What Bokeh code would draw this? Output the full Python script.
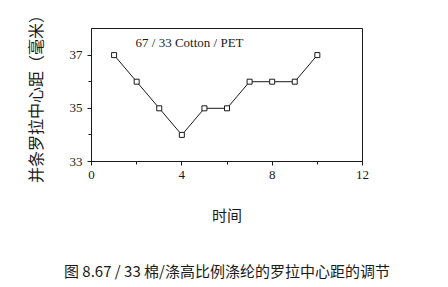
from bokeh.plotting import figure
from bokeh.models import FixedTicker, Label, LinearAxis
from bokeh.embed import file_html
from bokeh.resources import INLINE

# Data
time_pts = [1, 2, 3, 4, 5, 6, 7, 8, 9, 10]
distance = [37, 36, 35, 34, 35, 35, 36, 36, 36, 37]
x_ticks = [0, 4, 8, 12]
x_minor = [2, 6, 10]
y_ticks = [33, 35, 37]
y_minor = [34, 36]
series_label = "67 / 33 Cotton / PET"
y_title = "并条罗拉中心距（毫米）"
x_title = "时间"
caption = "图 8.67 / 33 棉/涤高比例涤纶的罗拉中心距的调节"

ink = "#1a1a1a"
serif = "Liberation Serif"
cjk = "Noto Sans CJK SC"

p = figure(width=448, height=287, x_range=(0, 12), y_range=(33, 38),
           output_backend="svg", toolbar_location=None,
           min_border_left=91, min_border_right=86,
           min_border_top=28, min_border_bottom=126,
           background_fill_color="white", border_fill_color="white")
p.grid.visible = False
p.outline_line_color = ink
p.outline_line_width = 1

p.xaxis.ticker = FixedTicker(ticks=x_ticks, minor_ticks=x_minor)
p.yaxis.ticker = FixedTicker(ticks=y_ticks, minor_ticks=y_minor)
for ax in (p.xaxis, p.yaxis):
    ax.axis_line_color = ink
    ax.major_tick_line_color = ink
    ax.minor_tick_line_color = ink
    ax.major_tick_out = 4
    ax.major_tick_in = 0
    ax.minor_tick_out = 3
    ax.minor_tick_in = 0
    ax.major_label_text_font = serif
    ax.major_label_text_font_size = "13px"
    ax.major_label_text_color = ink
    ax.axis_label_text_font = cjk
    ax.axis_label_text_font_style = "normal"
    ax.axis_label_text_color = ink

p.yaxis.axis_label = y_title
p.yaxis.axis_label_text_font_size = "16px"
p.yaxis.axis_label_standoff = 20
p.xaxis.axis_label = x_title
p.xaxis.axis_label_text_font_size = "15px"
p.xaxis.axis_label_standoff = 22

p.line(time_pts, distance, line_color=ink, line_width=1)
p.scatter(time_pts, distance, marker="square", size=5, fill_color="white",
          line_color=ink, line_width=1)

p.add_layout(Label(x=1.95, y=37.47, text=series_label, text_font=serif,
                   text_font_size="13px", text_color=ink,
                   text_baseline="middle"))

# caption as the label of an empty extra axis below
cap_axis = LinearAxis(ticker=FixedTicker(ticks=[]), axis_label=caption,
                      axis_line_color=None, major_tick_line_color=None,
                      minor_tick_line_color=None,
                      major_label_text_font_size="0px",
                      major_tick_out=0, minor_tick_out=0,
                      axis_label_standoff=32,
                      axis_label_text_font=cjk,
                      axis_label_text_font_size="15px",
                      axis_label_text_font_style="normal",
                      axis_label_text_color=ink)
p.add_layout(cap_axis, "below")

open("out.html", "w").write(file_html(p, INLINE))
